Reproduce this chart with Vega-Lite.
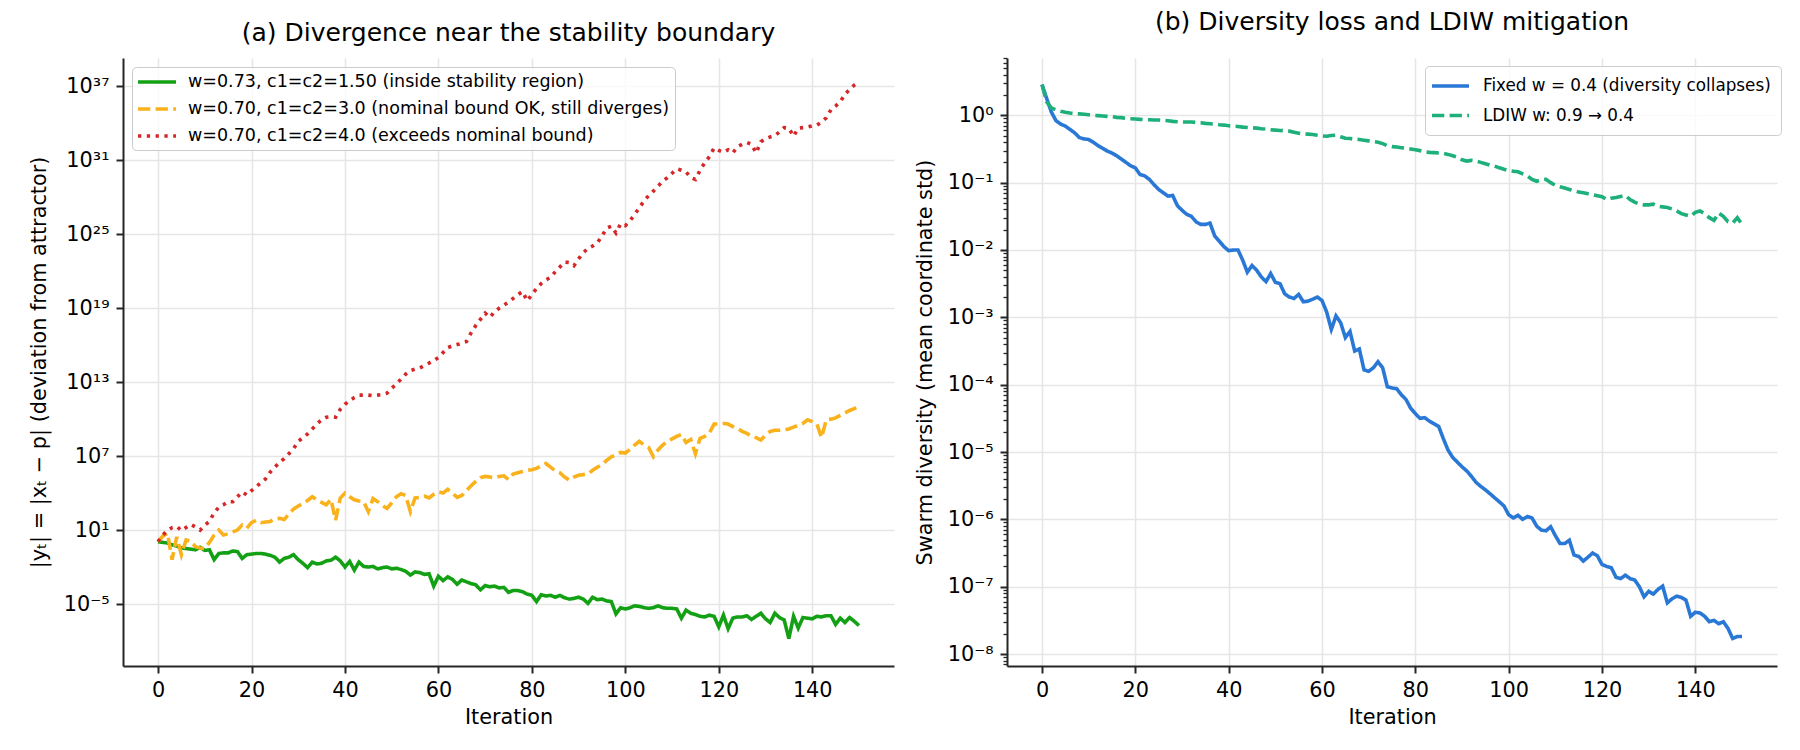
{
  "$schema": "https://vega.github.io/schema/vega-lite/v6.json",
  "background": "white",
  "padding": {"left": 28, "top": 10, "right": 5, "bottom": 5},
  "spacing": 20,
  "data": {"values": [
{"i":0,"g":1.12,"o":1.12,"r":1.12,"b":2.86,"l":2.86},
{"i":1,"g":1.0,"o":3.16,"r":3.98,"b":1.78,"l":1.58},
{"i":2,"g":0.891,"o":5.62,"r":8.91,"b":1.12,"l":1.29},
{"i":3,"g":0.631,"o":0.0398,"r":15.8,"b":0.832,"l":1.20},
{"i":4,"g":0.501,"o":2.82,"r":20.0,"b":0.741,"l":1.15},
{"i":5,"g":0.355,"o":0.1,"r":8.91,"b":0.692,"l":1.11},
{"i":6,"g":0.316,"o":1.58,"r":15.8,"b":0.617,"l":1.08},
{"i":7,"g":0.282,"o":1.26,"r":28.2,"b":0.550,"l":1.06},
{"i":8,"g":0.251,"o":0.447,"r":17.8,"b":0.468,"l":1.05},
{"i":9,"g":0.398,"o":0.355,"r":10.0,"b":0.447,"l":1.035},
{"i":10,"g":0.224,"o":0.316,"r":25.1,"b":0.437,"l":1.02},
{"i":11,"g":0.251,"o":1.0,"r":50.1,"b":0.398,"l":1.0},
{"i":12,"g":0.0398,"o":3.98,"r":251,"b":0.355,"l":0.989},
{"i":13,"g":0.126,"o":10.0,"r":708,"b":0.324,"l":0.977},
{"i":14,"g":0.141,"o":3.98,"r":1.12e3,"b":0.295,"l":0.966},
{"i":15,"g":0.141,"o":5.01,"r":2.0e3,"b":0.275,"l":0.955},
{"i":16,"g":0.2,"o":7.08,"r":2.0e3,"b":0.251,"l":0.933},
{"i":17,"g":0.178,"o":10.0,"r":5.01e3,"b":0.224,"l":0.923},
{"i":18,"g":0.0501,"o":25.1,"r":1.26e4,"b":0.2,"l":0.902},
{"i":19,"g":0.1,"o":14.1,"r":7.08e3,"b":0.178,"l":0.891},
{"i":20,"g":0.112,"o":39.8,"r":1.58e4,"b":0.166,"l":0.881},
{"i":21,"g":0.126,"o":63.1,"r":3.16e4,"b":0.132,"l":0.871},
{"i":22,"g":0.126,"o":39.8,"r":7.08e4,"b":0.126,"l":0.861},
{"i":23,"g":0.112,"o":44.7,"r":1.41e5,"b":0.112,"l":0.861},
{"i":24,"g":0.0891,"o":50.1,"r":5.01e5,"b":0.0933,"l":0.851},
{"i":25,"g":0.0631,"o":79.4,"r":1.26e6,"b":0.0794,"l":0.851},
{"i":26,"g":0.0251,"o":89.1,"r":3.16e6,"b":0.0708,"l":0.841},
{"i":27,"g":0.0501,"o":70.8,"r":6.31e6,"b":0.0631,"l":0.832},
{"i":28,"g":0.0631,"o":200,"r":1.58e7,"b":0.0646,"l":0.813},
{"i":29,"g":0.1,"o":501,"r":3.98e7,"b":0.0457,"l":0.804},
{"i":30,"g":0.0398,"o":891,"r":1.58e8,"b":0.0389,"l":0.794},
{"i":31,"g":0.02,"o":1.41e3,"r":3.16e8,"b":0.0339,"l":0.794},
{"i":32,"g":0.00891,"o":2.51e3,"r":6.31e8,"b":0.0316,"l":0.794},
{"i":33,"g":0.0251,"o":5.01e3,"r":1.58e9,"b":0.0263,"l":0.785},
{"i":34,"g":0.0178,"o":2.82e3,"r":3.98e9,"b":0.0240,"l":0.776},
{"i":35,"g":0.02,"o":1.78e3,"r":8.91e9,"b":0.0240,"l":0.759},
{"i":36,"g":0.0316,"o":1.12e3,"r":1.41e10,"b":0.0251,"l":0.750},
{"i":37,"g":0.0355,"o":3.16e3,"r":1.58e10,"b":0.0162,"l":0.741},
{"i":38,"g":0.0631,"o":63.1,"r":1.41e10,"b":0.0135,"l":0.724},
{"i":39,"g":0.0316,"o":3.98e3,"r":6.31e10,"b":0.0112,"l":0.716},
{"i":40,"g":0.01,"o":1.0e4,"r":1.58e11,"b":0.00977,"l":0.700},
{"i":41,"g":0.0282,"o":5.01e3,"r":3.16e11,"b":0.01,"l":0.692},
{"i":42,"g":0.00562,"o":2.82e3,"r":5.62e11,"b":0.01,"l":0.684},
{"i":43,"g":0.0251,"o":2.24e3,"r":8.91e11,"b":0.00708,"l":0.668},
{"i":44,"g":0.0112,"o":2.0e3,"r":8.91e11,"b":0.00468,"l":0.661},
{"i":45,"g":0.01,"o":316,"r":8.91e11,"b":0.00589,"l":0.653},
{"i":46,"g":0.0112,"o":3.55e3,"r":7.94e11,"b":0.00501,"l":0.646},
{"i":47,"g":0.00708,"o":2.0e3,"r":8.91e11,"b":0.00398,"l":0.631},
{"i":48,"g":0.00891,"o":1.0e3,"r":1.0e12,"b":0.00339,"l":0.624},
{"i":49,"g":0.01,"o":562,"r":1.26e12,"b":0.00447,"l":0.610},
{"i":50,"g":0.00708,"o":1.58e3,"r":3.16e12,"b":0.00331,"l":0.603},
{"i":51,"g":0.00794,"o":5.01e3,"r":7.08e12,"b":0.00316,"l":0.596},
{"i":52,"g":0.00631,"o":8.91e3,"r":1.78e13,"b":0.00224,"l":0.589},
{"i":53,"g":0.00447,"o":6.31e3,"r":4.47e13,"b":0.002,"l":0.582},
{"i":54,"g":0.00224,"o":316,"r":8.91e13,"b":0.00191,"l":0.562},
{"i":55,"g":0.00398,"o":3.98e3,"r":1.12e14,"b":0.00219,"l":0.543},
{"i":56,"g":0.00355,"o":4.47e3,"r":1.41e14,"b":0.00170,"l":0.531},
{"i":57,"g":0.00251,"o":5.62e3,"r":2.24e14,"b":0.00174,"l":0.525},
{"i":58,"g":0.00282,"o":3.98e3,"r":3.55e14,"b":0.00186,"l":0.519},
{"i":59,"g":0.000282,"o":7.94e3,"r":5.62e14,"b":0.002,"l":0.507},
{"i":60,"g":0.00178,"o":1.26e4,"r":1.0e15,"b":0.00178,"l":0.495},
{"i":61,"g":0.000794,"o":1.0e4,"r":2.51e15,"b":0.00120,"l":0.490},
{"i":62,"g":0.00158,"o":2.0e4,"r":6.31e15,"b":0.000661,"l":0.501},
{"i":63,"g":0.001,"o":1.0e4,"r":8.91e15,"b":0.00105,"l":0.507},
{"i":64,"g":0.000398,"o":4.47e3,"r":1.12e16,"b":0.000832,"l":0.479},
{"i":65,"g":0.000891,"o":6.31e3,"r":1.41e16,"b":0.000501,"l":0.457},
{"i":66,"g":0.000631,"o":1.58e4,"r":2.0e16,"b":0.000617,"l":0.452},
{"i":67,"g":0.000447,"o":3.98e4,"r":1.0e17,"b":0.000316,"l":0.442},
{"i":68,"g":0.000355,"o":8.91e4,"r":3.98e17,"b":0.000339,"l":0.437},
{"i":69,"g":0.000141,"o":1.78e5,"r":1.26e18,"b":0.000166,"l":0.427},
{"i":70,"g":0.000316,"o":2.24e5,"r":3.98e18,"b":0.000158,"l":0.417},
{"i":71,"g":0.000251,"o":2.0e5,"r":1.78e18,"b":0.000178,"l":0.407},
{"i":72,"g":0.000282,"o":1.78e5,"r":5.01e18,"b":0.000219,"l":0.398},
{"i":73,"g":0.0002,"o":2.24e5,"r":1.0e19,"b":0.000178,"l":0.380},
{"i":74,"g":0.000224,"o":2.51e5,"r":1.78e19,"b":9.33e-5,"l":0.355},
{"i":75,"g":8.91e-5,"o":1.26e5,"r":3.16e19,"b":8.91e-5,"l":0.343},
{"i":76,"g":1.26e-4,"o":3.55e5,"r":6.31e19,"b":8.71e-5,"l":0.339},
{"i":77,"g":1.26e-4,"o":4.47e5,"r":1.26e20,"b":7.08e-5,"l":0.331},
{"i":78,"g":1.0e-4,"o":5.62e5,"r":2.24e20,"b":6.03e-5,"l":0.324},
{"i":79,"g":6.31e-5,"o":7.08e5,"r":3.98e19,"b":4.47e-5,"l":0.316},
{"i":80,"g":5.01e-5,"o":7.94e5,"r":1.26e20,"b":3.72e-5,"l":0.309},
{"i":81,"g":1.58e-5,"o":1.0e6,"r":3.98e20,"b":3.16e-5,"l":0.299},
{"i":82,"g":5.62e-5,"o":1.58e6,"r":1.0e21,"b":3.24e-5,"l":0.288},
{"i":83,"g":4.47e-5,"o":2.51e6,"r":2.0e21,"b":2.88e-5,"l":0.282},
{"i":84,"g":5.01e-5,"o":1.26e6,"r":3.16e21,"b":2.63e-5,"l":0.279},
{"i":85,"g":3.55e-5,"o":6.31e5,"r":8.91e21,"b":2.40e-5,"l":0.275},
{"i":86,"g":5.01e-5,"o":4.47e5,"r":2.24e22,"b":1.58e-5,"l":0.272},
{"i":87,"g":3.16e-5,"o":2.0e5,"r":5.62e22,"b":1.07e-5,"l":0.263},
{"i":88,"g":2.51e-5,"o":1.12e5,"r":5.01e22,"b":8.32e-6,"l":0.251},
{"i":89,"g":2.82e-5,"o":2.0e5,"r":2.82e22,"b":7.08e-6,"l":0.240},
{"i":90,"g":3.55e-5,"o":2.82e5,"r":1.0e23,"b":6.03e-6,"l":0.219},
{"i":91,"g":2.51e-5,"o":3.16e5,"r":3.16e23,"b":5.25e-6,"l":0.209},
{"i":92,"g":1.12e-5,"o":3.55e5,"r":7.08e23,"b":4.37e-6,"l":0.214},
{"i":93,"g":3.55e-5,"o":7.08e5,"r":1.12e24,"b":3.55e-6,"l":0.209},
{"i":94,"g":2.24e-5,"o":1.26e6,"r":2.0e24,"b":3.09e-6,"l":0.200},
{"i":95,"g":2.51e-5,"o":2.0e6,"r":7.08e24,"b":2.75e-6,"l":0.191},
{"i":96,"g":1.78e-5,"o":4.47e6,"r":3.16e25,"b":2.40e-6,"l":0.182},
{"i":97,"g":1.58e-5,"o":8.91e6,"r":4.47e25,"b":2.09e-6,"l":0.176},
{"i":98,"g":1.58e-6,"o":1.26e7,"r":1.26e25,"b":1.82e-6,"l":0.166},
{"i":99,"g":5.01e-6,"o":2.0e7,"r":7.08e25,"b":1.58e-6,"l":0.158},
{"i":100,"g":3.98e-6,"o":1.78e7,"r":5.01e25,"b":1.17e-6,"l":0.151},
{"i":101,"g":5.01e-6,"o":3.55e7,"r":1.26e26,"b":1.05e-6,"l":0.148},
{"i":102,"g":7.08e-6,"o":7.94e7,"r":3.98e26,"b":1.15e-6,"l":0.145},
{"i":103,"g":6.31e-6,"o":1.58e8,"r":1.41e27,"b":1.0e-6,"l":0.135},
{"i":104,"g":5.01e-6,"o":7.94e7,"r":5.01e27,"b":1.10e-6,"l":0.126},
{"i":105,"g":4.47e-6,"o":5.01e7,"r":1.41e28,"b":1.05e-6,"l":0.112},
{"i":106,"g":5.01e-6,"o":8.91e6,"r":3.16e28,"b":7.94e-7,"l":0.105},
{"i":107,"g":7.08e-6,"o":3.16e7,"r":7.94e28,"b":6.92e-7,"l":0.110},
{"i":108,"g":5.01e-6,"o":7.94e7,"r":2.0e29,"b":6.76e-7,"l":0.112},
{"i":109,"g":4.47e-6,"o":1.58e8,"r":3.98e29,"b":7.76e-7,"l":0.1},
{"i":110,"g":4.47e-6,"o":2.51e8,"r":8.91e29,"b":5.75e-7,"l":0.0912},
{"i":111,"g":3.98e-6,"o":3.98e8,"r":2.0e30,"b":4.37e-7,"l":0.0871},
{"i":112,"g":7.08e-7,"o":5.62e8,"r":1.58e30,"b":4.37e-7,"l":0.0832},
{"i":113,"g":3.16e-6,"o":1.26e8,"r":1.12e30,"b":4.90e-7,"l":0.0794},
{"i":114,"g":1.78e-6,"o":2.24e8,"r":3.98e29,"b":2.95e-7,"l":0.0759},
{"i":115,"g":1.41e-6,"o":1.58e7,"r":2.82e29,"b":2.82e-7,"l":0.0724},
{"i":116,"g":1.0e-6,"o":2.82e8,"r":1.58e30,"b":2.40e-7,"l":0.0708},
{"i":117,"g":8.91e-7,"o":3.98e8,"r":6.31e30,"b":2.75e-7,"l":0.0684},
{"i":118,"g":1.26e-6,"o":7.94e8,"r":2.0e31,"b":3.16e-7,"l":0.0661},
{"i":119,"g":1.0e-6,"o":3.98e9,"r":1.0e32,"b":2.88e-7,"l":0.0638},
{"i":120,"g":1.41e-7,"o":3.98e9,"r":6.31e31,"b":2.14e-7,"l":0.0617},
{"i":121,"g":1.26e-6,"o":4.47e9,"r":4.47e31,"b":2.0e-7,"l":0.0562},
{"i":122,"g":1.0e-7,"o":3.98e9,"r":7.08e31,"b":1.91e-7,"l":0.0589},
{"i":123,"g":7.08e-7,"o":2.51e9,"r":3.98e31,"b":1.38e-7,"l":0.0603},
{"i":124,"g":8.91e-7,"o":1.78e9,"r":1.26e32,"b":1.32e-7,"l":0.0624},
{"i":125,"g":8.91e-7,"o":1.0e9,"r":2.0e32,"b":1.48e-7,"l":0.0646},
{"i":126,"g":1.12e-6,"o":7.08e8,"r":2.82e32,"b":1.32e-7,"l":0.0562},
{"i":127,"g":5.62e-7,"o":3.98e8,"r":2.0e32,"b":1.26e-7,"l":0.0513},
{"i":128,"g":1.0e-6,"o":3.16e8,"r":3.98e31,"b":1.0e-7,"l":0.0479},
{"i":129,"g":1.78e-6,"o":2.0e8,"r":3.16e32,"b":7.08e-8,"l":0.0468},
{"i":130,"g":6.31e-7,"o":5.01e8,"r":5.62e32,"b":8.51e-8,"l":0.0468},
{"i":131,"g":3.16e-7,"o":1.0e9,"r":7.94e32,"b":7.76e-8,"l":0.0479},
{"i":132,"g":1.78e-6,"o":1.26e9,"r":1.0e33,"b":9.12e-8,"l":0.0447},
{"i":133,"g":7.94e-7,"o":1.26e9,"r":2.0e33,"b":1.02e-7,"l":0.0437},
{"i":134,"g":5.01e-7,"o":1.41e9,"r":4.47e33,"b":5.75e-8,"l":0.0427},
{"i":135,"g":1.58e-8,"o":1.58e9,"r":3.98e33,"b":6.61e-8,"l":0.0407},
{"i":136,"g":1.0e-6,"o":2.24e9,"r":8.91e32,"b":7.24e-8,"l":0.0380},
{"i":137,"g":1.12e-7,"o":3.16e9,"r":3.98e33,"b":6.92e-8,"l":0.0347},
{"i":138,"g":7.94e-7,"o":4.47e9,"r":4.47e33,"b":6.31e-8,"l":0.0331},
{"i":139,"g":7.08e-7,"o":8.91e9,"r":5.01e33,"b":3.63e-8,"l":0.0316},
{"i":140,"g":6.31e-7,"o":6.31e9,"r":6.31e33,"b":4.17e-8,"l":0.0363},
{"i":141,"g":1.0e-6,"o":3.98e9,"r":7.08e33,"b":4.07e-8,"l":0.0380},
{"i":142,"g":8.91e-7,"o":3.16e8,"r":1.26e34,"b":3.63e-8,"l":0.0347},
{"i":143,"g":1.12e-6,"o":8.91e9,"r":2.82e34,"b":3.02e-8,"l":0.0302},
{"i":144,"g":1.12e-6,"o":1.0e10,"r":1.26e35,"b":3.16e-8,"l":0.0275},
{"i":145,"g":2.24e-7,"o":1.26e10,"r":2.51e35,"b":2.82e-8,"l":0.0355},
{"i":146,"g":7.08e-7,"o":2.0e10,"r":5.62e35,"b":3.02e-8,"l":0.0316},
{"i":147,"g":3.16e-7,"o":3.16e10,"r":2.24e36,"b":2.40e-8,"l":0.0263},
{"i":148,"g":7.94e-7,"o":5.01e10,"r":5.62e36,"b":1.70e-8,"l":0.0251},
{"i":149,"g":3.98e-7,"o":7.08e10,"r":1.26e37,"b":1.82e-8,"l":0.0302},
{"i":150,"g":1.78e-7,"o":1.12e11,"r":2.24e37,"b":1.82e-8,"l":0.0240}
  ]},
  "hconcat": [
    {
      "width": 771,
      "height": 608,
      "title": {"text": "(a) Divergence near the stability boundary", "offset": 12},
      "transform": [{"fold": ["g", "o", "r"], "as": ["sa", "va"]}],
      "mark": {"type": "line", "strokeWidth": 3.6, "strokeCap": "butt", "clip": true},
      "encoding": {
        "x": {"field": "i", "type": "quantitative",
              "scale": {"domain": [-7.5, 157.5], "nice": false, "zero": false},
              "axis": {"values": [0, 20, 40, 60, 80, 100, 120, 140], "title": "Iteration"}},
        "y": {"field": "va", "type": "quantitative",
              "scale": {"type": "log", "domain": [9.33e-11, 2e39], "nice": false},
              "axis": {"values": [1e-5, 10, 1e7, 1e13, 1e19, 1e25, 1e31, 1e37],
                       "labelExpr": "['10⁻⁵','10¹','10⁷','10¹³','10¹⁹','10²⁵','10³¹','10³⁷'][round((log(datum.value)/LN10 + 5)/6)]",
                       "labelOverlap": false,
                       "titlePadding": 14,
                       "title": "|yₜ| = |xₜ − p| (deviation from attractor)"}},
        "color": {"field": "sa", "type": "nominal",
                  "scale": {"domain": ["g", "o", "r"], "range": ["#14a014", "#f9b21b", "#d62728"]},
                  "legend": {"orient": "none", "legendX": 9, "legendY": 9, "title": null,
                             "padding": 5, "symbolType": "M-1.125,0H3.625", "labelOffset": 31, "rowPadding": 8,
                             "labelExpr": "datum.label == 'g' ? 'w=0.73, c1=c2=1.50 (inside stability region)' : datum.label == 'o' ? 'w=0.70, c1=c2=3.0 (nominal bound OK, still diverges)' : 'w=0.70, c1=c2=4.0 (exceeds nominal bound)'"}},
        "strokeDash": {"field": "sa", "type": "nominal",
                       "scale": {"domain": ["g", "o", "r"], "range": [[1, 0], [12.3, 5.3], [3.3, 5.5]]}}
      }
    },
    {
      "width": 770,
      "height": 608,
      "title": {"text": "(b) Diversity loss and LDIW mitigation", "offset": 12},
      "transform": [{"fold": ["b", "l"], "as": ["sb", "vb"]}],
      "mark": {"type": "line", "strokeWidth": 3.6, "strokeCap": "butt", "clip": true},
      "encoding": {
        "x": {"field": "i", "type": "quantitative",
              "scale": {"domain": [-7.5, 157.5], "nice": false, "zero": false},
              "axis": {"values": [0, 20, 40, 60, 80, 100, 120, 140], "title": "Iteration"}},
        "y": {"field": "vb", "type": "quantitative",
              "scale": {"type": "log", "domain": [6.64e-9, 7.1], "nice": false},
              "axis": {"values": [7e-9,8e-9,9e-9,1e-8,2e-8,3e-8,4e-8,5e-8,6e-8,7e-8,8e-8,9e-8,1e-7,2e-7,3e-7,4e-7,5e-7,6e-7,7e-7,8e-7,9e-7,1e-6,2e-6,3e-6,4e-6,5e-6,6e-6,7e-6,8e-6,9e-6,1e-5,2e-5,3e-5,4e-5,5e-5,6e-5,7e-5,8e-5,9e-5,1e-4,2e-4,3e-4,4e-4,5e-4,6e-4,7e-4,8e-4,9e-4,1e-3,2e-3,3e-3,4e-3,5e-3,6e-3,7e-3,8e-3,9e-3,1e-2,2e-2,3e-2,4e-2,5e-2,6e-2,7e-2,8e-2,9e-2,0.1,0.2,0.3,0.4,0.5,0.6,0.7,0.8,0.9,1,2,3,4,5,6,7],
                       "labelExpr": "abs(log(datum.value)/LN10 - round(log(datum.value)/LN10)) < 0.01 ? ['10⁻⁸','10⁻⁷','10⁻⁶','10⁻⁵','10⁻⁴','10⁻³','10⁻²','10⁻¹','10⁰'][round(log(datum.value)/LN10) + 8] : ''",
                       "labelOverlap": false,
                       "titlePadding": 12,
                       "tickSize": {"condition": {"test": "abs(log(datum.value)/LN10 - round(log(datum.value)/LN10)) < 0.01", "value": 7}, "value": 4},
                       "tickWidth": {"condition": {"test": "abs(log(datum.value)/LN10 - round(log(datum.value)/LN10)) < 0.01", "value": 2}, "value": 1.3},
                       "gridOpacity": {"condition": {"test": "abs(log(datum.value)/LN10 - round(log(datum.value)/LN10)) < 0.01", "value": 1}, "value": 0},
                       "title": "Swarm diversity (mean coordinate std)"}},
        "color": {"field": "sb", "type": "nominal",
                  "scale": {"domain": ["b", "l"], "range": ["#2a78d6", "#1db07a"]},
                  "legend": {"orient": "none", "legendX": 418, "legendY": 8, "title": null,
                             "padding": 10, "symbolType": "M-1.625,0H3.0", "labelOffset": 28, "rowPadding": 10.5,
                             "labelFontSize": 16.8,
                             "labelExpr": "datum.label == 'b' ? 'Fixed w = 0.4 (diversity collapses)' : 'LDIW w: 0.9 → 0.4'"}},
        "strokeDash": {"field": "sb", "type": "nominal",
                       "scale": {"domain": ["b", "l"], "range": [[1, 0], [12.3, 5.3]]}}
      }
    }
  ],
  "resolve": {"scale": {"color": "independent", "strokeDash": "independent"}, "legend": {"color": "independent", "strokeDash": "independent"}},
  "config": {
    "font": "DejaVu Sans",
    "view": {"stroke": null},
    "axis": {"labelFont": "DejaVu Sans", "labelFontSize": 20.8, "labelColor": "#000000",
             "titleFont": "DejaVu Sans", "titleFontSize": 20.8, "titleFontWeight": "normal", "titleColor": "#000000",
             "domainColor": "#262626", "domainWidth": 2, "tickColor": "#262626", "tickWidth": 2, "tickSize": 7,
             "labelPadding": 7, "gridColor": "#e6e6e6", "gridWidth": 1.6, "titlePadding": 8},
    "title": {"font": "DejaVu Sans", "fontSize": 25, "fontWeight": "normal", "color": "#000000"},
    "legend": {"labelFont": "DejaVu Sans", "labelFontSize": 17.5, "labelColor": "#000000", "labelLimit": 0,
               "symbolSize": 256, "symbolStrokeWidth": 3.6,
               "fillColor": "rgba(255,255,255,0.8)", "strokeColor": "#cccccc", "cornerRadius": 4}
  }
}
